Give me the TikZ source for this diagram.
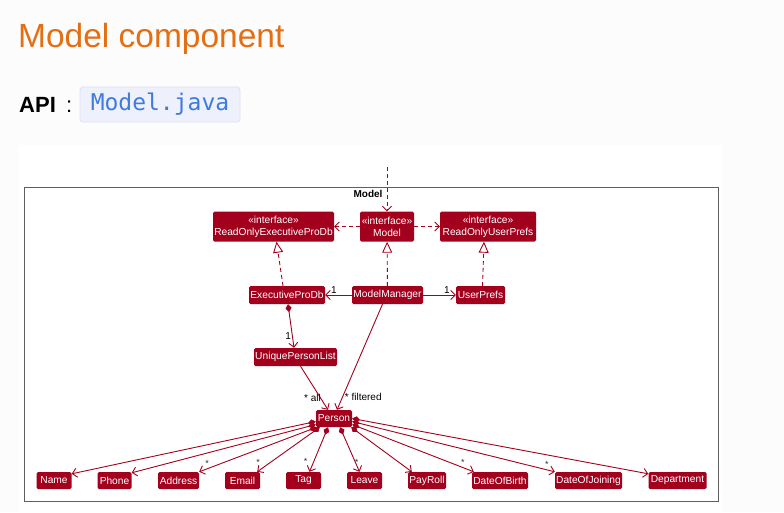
\documentclass[tikz,border=0pt]{standalone}
\usepackage{fontspec}
\setmainfont{Liberation Sans}
\newfontfamily\codefont{DejaVu Sans Mono}
\usetikzlibrary{arrows.meta,calc}
\definecolor{umlred}{RGB}{163,0,30}
\definecolor{titleorange}{RGB}{228,110,18}
\definecolor{codeblue}{RGB}{62,122,224}
\definecolor{codebg}{RGB}{238,240,252}
\definecolor{codeborder}{RGB}{222,225,240}
\definecolor{pagebg}{RGB}{252,252,252}
\definecolor{framegray}{RGB}{95,95,95}
\begin{document}
\begin{tikzpicture}[x=1pt,y=-1pt,
  cls/.style={fill=umlred, text=white, rounded corners=1.5pt, inner sep=0pt,
    minimum height=18pt, font=\fontsize{10.2}{12}\selectfont, align=center},
  iface/.style={cls, minimum height=30pt},
  bot/.style={cls, minimum height=17pt},
  dep/.style={draw=umlred, line width=0.9pt, dash pattern=on 4pt off 3pt,
    -{Straight Barb[length=4.5pt,width=9pt,line width=0.9pt]}},
  real/.style={draw=umlred, line width=0.9pt, dash pattern=on 4pt off 3pt,
    -{Triangle[open,length=11pt,width=10pt,fill=white,line width=0.9pt]}},
  assoc/.style={draw=umlred, line width=0.9pt,
    -{Straight Barb[length=4.5pt,width=9pt,line width=0.9pt]}},
  comp/.style={draw=umlred, line width=0.9pt,
    {Diamond[length=8pt,width=6pt,fill=umlred]}-{Straight Barb[length=4.5pt,width=9pt,line width=0.9pt]}},
  lbl/.style={text=black, font=\fontsize{10}{12}\selectfont, inner sep=1pt},
  star/.style={text=black!80, font=\fontsize{9}{10}\selectfont, inner sep=0pt},
]
% page
\fill[pagebg] (0,0) rectangle (784,512);
\useasboundingbox (0,0) rectangle (784,512);
\fill[white] (19,145) rectangle (722,512);

% heading
\node[anchor=base west, inner sep=0pt, text=titleorange, font=\fontsize{33.5}{36}\selectfont] (title) at (18,47) {Model component};
\node[anchor=base west, inner sep=0pt, font=\fontsize{22}{26}\selectfont\bfseries] (api) at (19,112) {API};
\node[anchor=base west, inner sep=0pt, font=\fontsize{22}{26}\selectfont] (colon) at (66,112) {:};
\node[draw=codeborder, fill=codebg, rounded corners=3pt, line width=0.8pt, minimum width=160pt, minimum height=35pt, inner sep=0pt,
  text=codeblue, font=\codefont\fontsize{23}{26}\selectfont] (code) at (160,104.5) {Model.java};

% frame
\draw[framegray, line width=1pt] (24,187) rectangle (718,501);
\node[font=\fontsize{10}{11}\selectfont\bfseries, inner sep=0pt] (frametitle) at (368,194) {Model};

% nodes
\node[iface, minimum width=121pt] (ROEPDb) at (273.5,226.5) {«interface»\\ReadOnlyExecutiveProDb};
\node[iface, minimum width=54pt] (Model) at (387,226.5) {«interface»\\Model};
\node[iface, minimum width=96pt] (ROUP) at (488,226.5) {«interface»\\ReadOnlyUserPrefs};
\node[cls, minimum width=76pt] (EPDb) at (287,295) {ExecutiveProDb};
\node[cls, minimum width=71pt] (MM) at (387.5,295) {ModelManager};
\node[cls, minimum width=49pt] (UP) at (480.5,295) {UserPrefs};
\node[cls, minimum width=83pt] (UPL) at (295.5,357) {UniquePersonList};
\node[bot, minimum width=36pt] (Person) at (334,418.5) {Person};

\node[bot, minimum width=35pt] (Name) at (54,480.5) {Name};
\node[bot, minimum width=34pt] (Phone) at (114.5,480.5) {Phone};
\node[bot, minimum width=41pt] (Address) at (178.5,480.5) {Address};
\node[bot, minimum width=35pt] (Email) at (242.5,480.5) {Email};
\node[bot, minimum width=35pt] (Tag) at (303.5,480.5) {Tag};
\node[bot, minimum width=35pt] (Leave) at (364.5,480.5) {Leave};
\node[bot, minimum width=38pt] (PayRoll) at (427,480.5) {PayRoll};
\node[bot, minimum width=56pt] (DOB) at (500,480.5) {DateOfBirth};
\node[bot, minimum width=67pt] (DOJ) at (588.5,480.5) {DateOfJoining};
\node[bot, minimum width=58pt] (Dept) at (677.5,480.5) {Department};

% external dependency into Model
\coordinate (ext) at (387,167);
\draw[dep] (ext) -- (Model);

% dependencies of Model
\draw[dep] (Model) -- (ROEPDb);
\draw[dep] (Model) -- (ROUP);

% realizations
\draw[real] ([xshift=-4pt]EPDb.north) -- ([xshift=3pt]ROEPDb.south);
\draw[real] (MM) -- (Model);
\draw[real] ([xshift=2pt]UP.north) -- ([xshift=-4pt]ROUP.south);

% associations
\draw[assoc] (MM) -- (EPDb) node[lbl, pos=0.67, above] {1};
\draw[assoc] (MM) -- (UP) node[lbl, pos=0.73, above] {1};
\draw[comp] ([xshift=1pt]EPDb.south) -- ([xshift=-1.5pt]UPL.north) node[lbl, pos=0.72, left] {1};
\draw[assoc] ([xshift=5pt]UPL.south) -- ([xshift=-6pt]Person.north) node[lbl, pos=0.72, left, xshift=2pt] {* all};
\draw[assoc] ([xshift=-5pt]MM.south) -- ([xshift=3pt]Person.north) node[lbl, pos=0.88, right, xshift=1pt] {* filtered};

% compositions of Person
\draw[comp] ([yshift=-3pt]Person.west) -- ([yshift=-2pt]Name.north east);
\draw[comp] ([yshift=-6pt]Person.west) -- ([yshift=-1pt]Phone.north east);
\draw[comp] ([xshift=1pt]Person.south west) -- (Address.north east)
  node[star, at end, xshift=8pt, yshift=8pt] {*};
\draw[comp] ([xshift=4pt]Person.south west) -- ([xshift=-3pt]Email.north east)
  node[star, at end, xshift=1pt, yshift=9pt] {*};
\draw[comp] ([xshift=-6pt]Person.south) -- ([xshift=6pt]Tag.north)
  node[star, at end, xshift=-4pt, yshift=10pt] {*};
\draw[comp] ([xshift=6pt]Person.south) -- ([xshift=-5pt]Leave.north)
  node[star, at end, xshift=-3pt, yshift=9pt] {*};
\draw[comp] ([xshift=-1pt]Person.south east) -- ([xshift=4pt]PayRoll.north west);
\draw[comp] ([yshift=-6pt]Person.east) -- ([xshift=2pt]DOB.north west)
  node[star, at end, xshift=-11pt, yshift=9pt] {*};
\draw[comp] ([yshift=-3pt]Person.east) -- (DOJ.north west)
  node[star, at end, xshift=-8pt, yshift=7pt] {*};
\draw[comp] (Person.east) -- ([yshift=-2pt]Dept.north west);
\end{tikzpicture}
\end{document}
